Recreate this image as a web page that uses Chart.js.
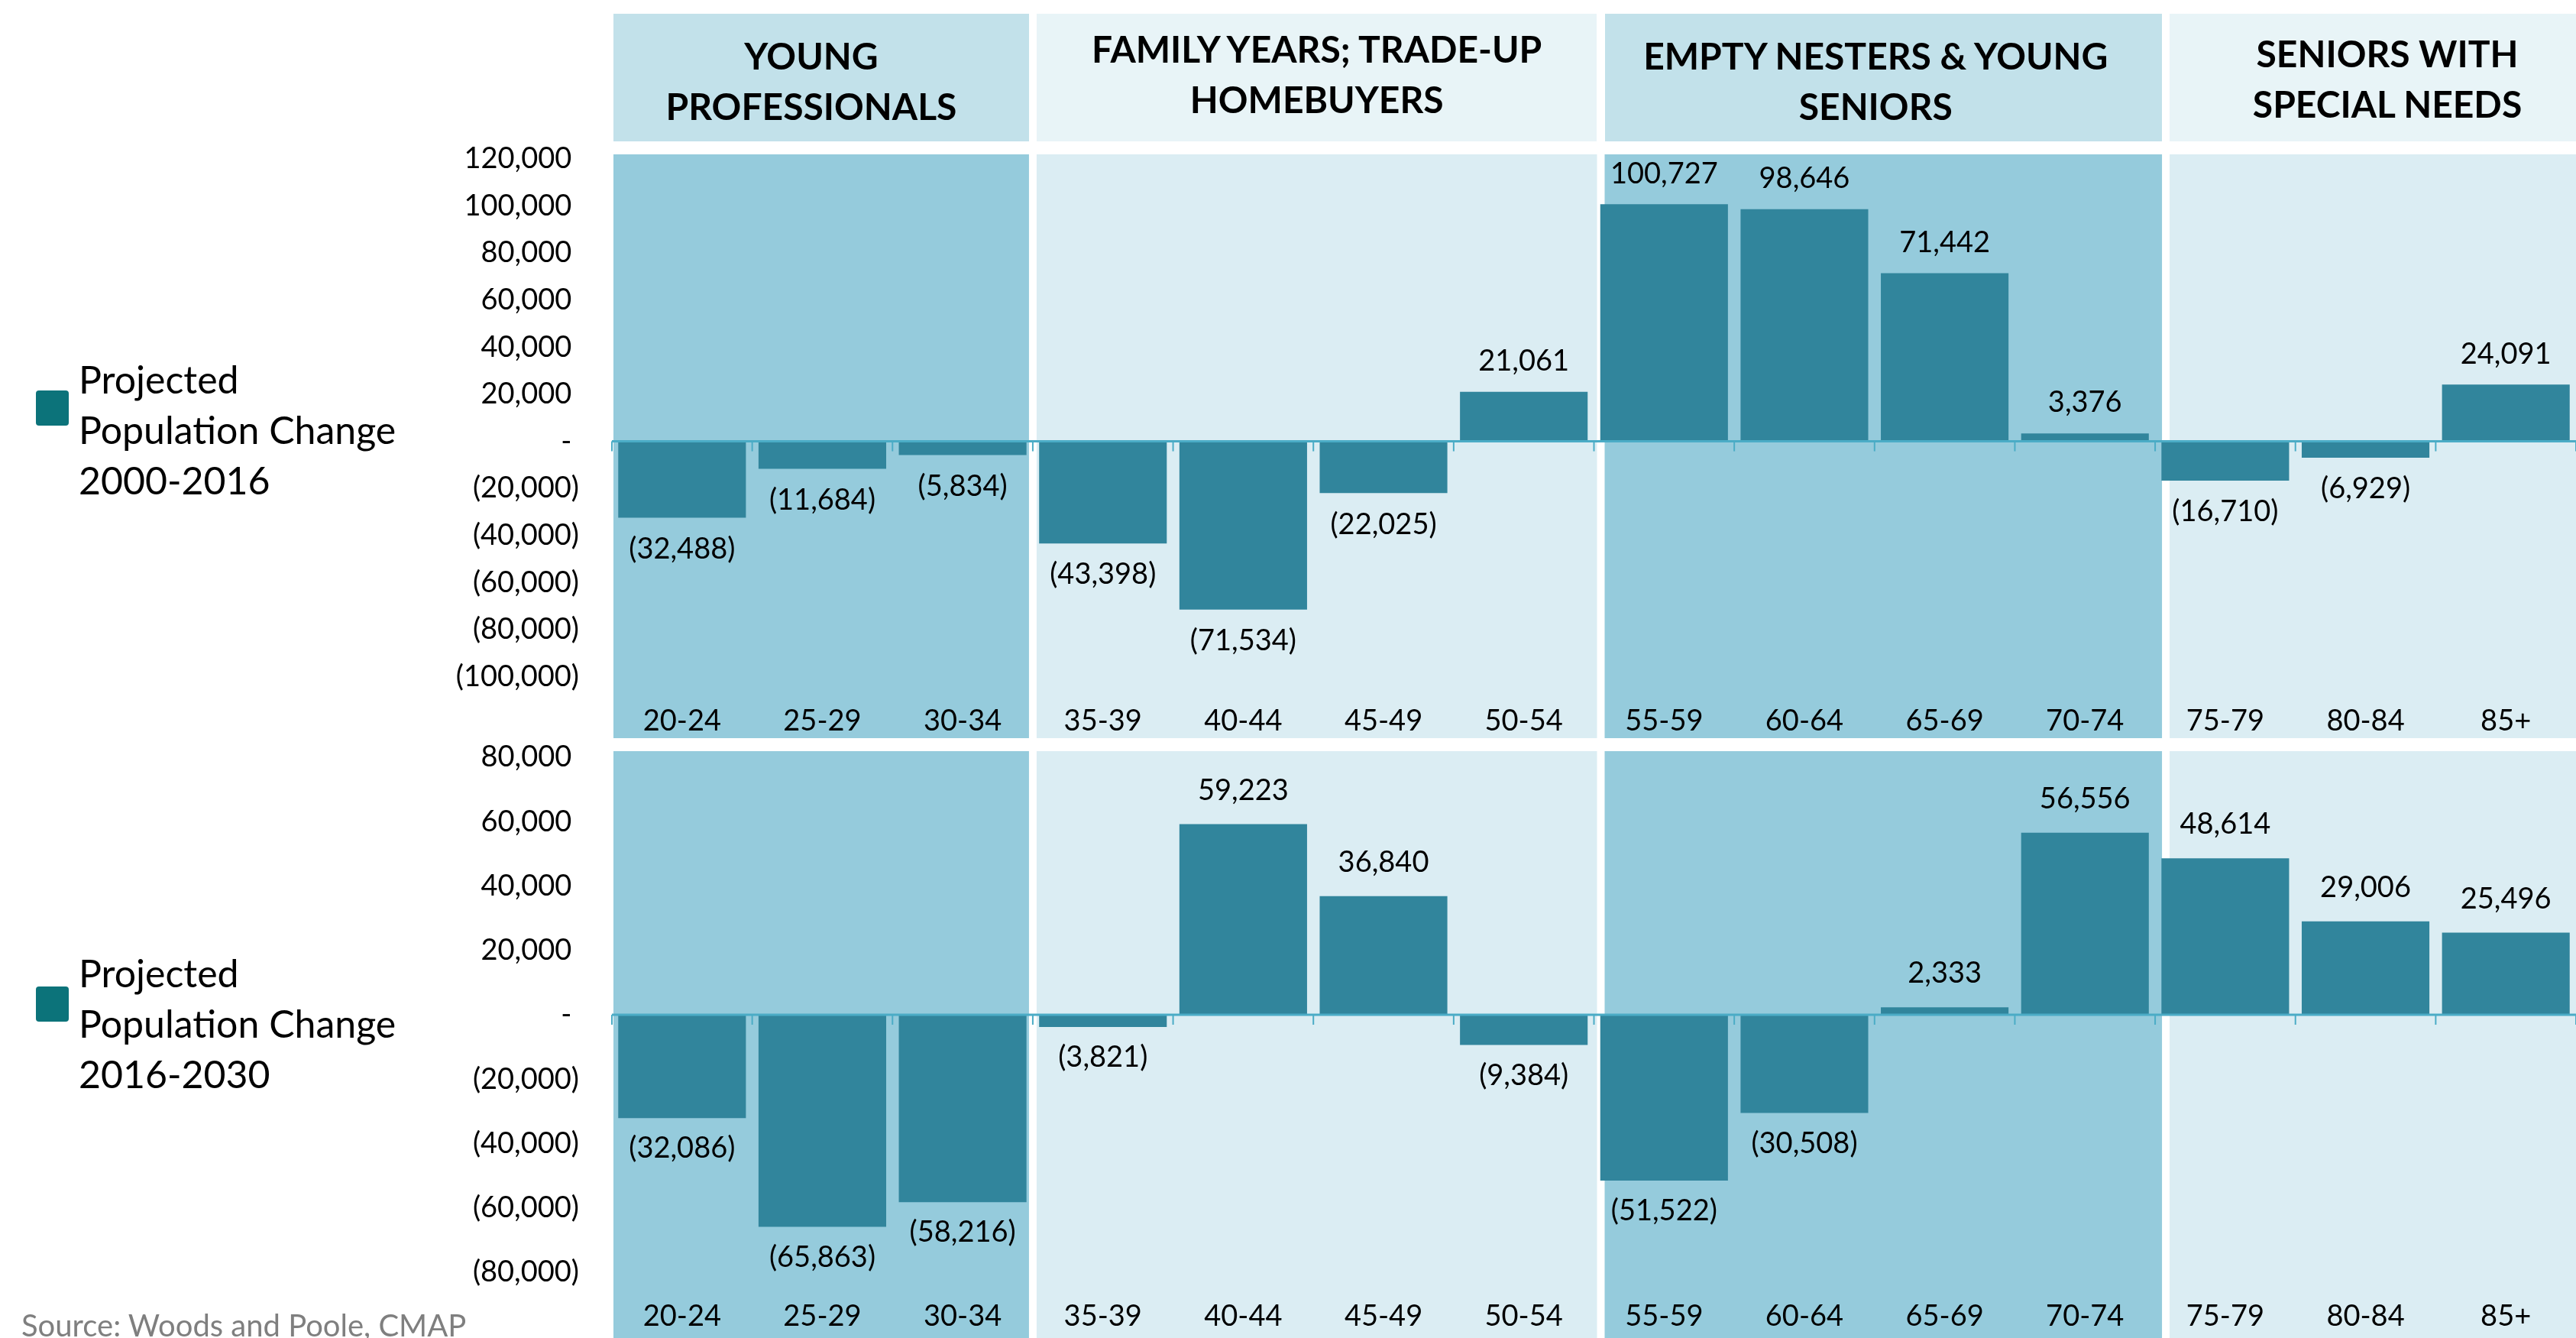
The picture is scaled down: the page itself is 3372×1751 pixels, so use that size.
<!DOCTYPE html>
<html lang="en">
<head>
  <meta charset="UTF-8">
  <title>Projected Population Change by Age Group</title>
  <script src="https://cdn.jsdelivr.net/npm/chart.js"></script>
  <style>
    body { margin: 0; background: #fff; font-family: Lato, sans-serif; color: #000; }
    #page { position: relative; width: 3372px; height: 1751px; overflow: hidden; }
    canvas { position: absolute; left: 0; }
    .hdr { position: absolute; top: 18px; height: 167px; display: flex; align-items: center; justify-content: center;
           text-align: center; font-weight: bold; font-size: 48px; line-height: 66px; white-space: pre; }
    .key { position: absolute; left: 47px; width: 43px; height: 46px; background: #0c737a; border-radius: 4px; }
    .keytext { position: absolute; left: 103px; font-size: 50px; line-height: 66px; }
    #source { position: absolute; left: 28px; top: 1710px; font-size: 40px; line-height: 48px; color: #7f7f7f; white-space: nowrap; }
  </style>
</head>
<body>
<div id="page">
  <canvas id="chartTop" width="3372" height="804" style="top:162px"></canvas>
  <canvas id="chartBottom" width="3372" height="808" style="top:943px"></canvas>

  <div class="key" style="top:511px"></div>
  <div class="keytext" style="top:463px">Projected<br>Population Change<br>2000-2016</div>
  <div class="key" style="top:1291px"></div>
  <div class="keytext" style="top:1240px">Projected<br>Population Change<br>2016-2030</div>

  <div id="source">Source: Woods and Poole, CMAP</div>
</div>

<script>
  // age groups and projected change
  const ageGroups = ['20-24', '25-29', '30-34', '35-39', '40-44', '45-49', '50-54',
                     '55-59', '60-64', '65-69', '70-74', '75-79', '80-84', '85+'];
  const change2000_2016 = [-32488, -11684, -5834, -43398, -71534, -22025, 21061,
                           100727, 98646, 71442, 3376, -16710, -6929, 24091];
  const change2016_2030 = [-32086, -65863, -58216, -3821, 59223, 36840, -9384,
                           -51522, -30508, 2333, 56556, 48614, 29006, 25496];

  // life stages across the top (number of age groups in each)
  const stageNames = ['YOUNG\nPROFESSIONALS', 'FAMILY YEARS; TRADE-UP\nHOMEBUYERS',
                      'EMPTY NESTERS & YOUNG\nSENIORS', 'SENIORS WITH\nSPECIAL NEEDS'];
  const stageSizes = [3, 4, 4, 3];

  // y axis ranges
  const yTop = { min: -100000, max: 120000, step: 20000 };
  const yBottom = { min: -80000, max: 80000, step: 20000 };

  const BAR = '#31859c';
  const BAND = ['#95cbdc', '#dbedf3'];
  const HEAD = ['#c2e1ea', '#e8f4f7'];
  const AXIS = '#4bacc6';
  // the shaded bands sit slightly right of the category edges further along
  const edgeShift = [0, 0, 9, 14, 0];

  Chart.defaults.font.family = 'Lato';
  Chart.defaults.color = '#000';

  function fmt(v) {
    const s = Math.abs(v).toLocaleString('en-US');
    return v < 0 ? '(' + s + ')' : s;
  }

  function stageSpan(chart, g) {
    const x = chart.scales.x, a = chart.chartArea;
    const half = (x.getPixelForValue(1) - x.getPixelForValue(0)) / 2;
    let start = 0;
    for (let k = 0; k < g; k++) start += stageSizes[k];
    const end = start + stageSizes[g] - 1;
    let l = x.getPixelForValue(start) - half + 5 + edgeShift[g];
    let r = x.getPixelForValue(end) + half - 5 + edgeShift[g + 1];
    if (g === 0) l = a.left + 2;
    if (g === stageSizes.length - 1) r = chart.width;
    return [l, r];
  }

  const bandsPlugin = {
    id: 'bands',
    beforeDraw(chart, args, opts) {
      const ctx = chart.ctx;
      const top = chart.chartArea.top - opts.above;
      ctx.save();
      for (let g = 0; g < stageSizes.length; g++) {
        const [l, r] = stageSpan(chart, g);
        ctx.fillStyle = BAND[g % 2];
        ctx.fillRect(l, top, r - l, chart.height - top);
      }
      ctx.restore();
    }
  };

  const zeroAxisPlugin = {
    id: 'zeroAxis',
    afterDatasetsDraw(chart) {
      const ctx = chart.ctx, a = chart.chartArea, x = chart.scales.x;
      const y0 = chart.scales.y.getPixelForValue(0);
      const half = (x.getPixelForValue(1) - x.getPixelForValue(0)) / 2;
      ctx.save();
      ctx.strokeStyle = AXIS;
      ctx.lineWidth = 3;
      ctx.beginPath();
      ctx.moveTo(a.left, y0);
      ctx.lineTo(a.right, y0);
      ctx.stroke();
      ctx.lineWidth = 2;
      for (let i = 0; i <= ageGroups.length; i++) {
        const px = x.getPixelForValue(i) - half;
        ctx.beginPath();
        ctx.moveTo(px, y0);
        ctx.lineTo(px, y0 + 13);
        ctx.stroke();
      }
      ctx.restore();
    }
  };

  const valueLabels = {
    id: 'valueLabels',
    afterDatasetsDraw(chart, args, opts) {
      const ctx = chart.ctx;
      const data = chart.data.datasets[0].data;
      ctx.save();
      ctx.font = '38px Lato';
      ctx.fillStyle = '#000';
      ctx.textAlign = 'center';
      ctx.textBaseline = 'middle';
      chart.getDatasetMeta(0).data.forEach((bar, i) => {
        const v = data[i];
        const y = v >= 0 ? bar.y - opts.above : bar.y + opts.below;
        ctx.fillText(fmt(v), bar.x, y);
      });
      ctx.restore();
    }
  };

  function makeChart(id, values, range, padTop, bandAbove, axisHeight, above, below) {
    return new Chart(document.getElementById(id), {
      type: 'bar',
      data: {
        labels: ageGroups,
        datasets: [{
          data: values,
          backgroundColor: BAR,
          categoryPercentage: 1,
          barPercentage: 0.91
        }]
      },
      options: {
        responsive: false,
        animation: false,
        devicePixelRatio: 1,
        layout: { padding: { top: padTop, left: 0, right: 0, bottom: 0 } },
        plugins: {
          legend: { display: false },
          tooltip: { enabled: false },
          bands: { above: bandAbove },
          valueLabels: { above: above, below: below }
        },
        scales: {
          x: {
            grid: { display: false },
            border: { display: false },
            ticks: { font: { size: 38 }, padding: 27, maxRotation: 0, autoSkip: false },
            afterFit(s) { s.height = axisHeight; s.paddingLeft = 0; s.paddingRight = 0; }
          },
          y: {
            min: range.min,
            max: range.max,
            grid: { display: false },
            border: { display: false },
            ticks: {
              stepSize: range.step,
              font: { size: 38 },
              padding: 35,
              callback: v => v > 0 ? fmt(v) + ' ' : v === 0 ? '- ' : fmt(v)
            },
            afterFit(s) { s.width = 801; s.paddingTop = 0; s.paddingBottom = 0; }
          }
        }
      },
      plugins: [bandsPlugin, zeroAxisPlugin, valueLabels]
    });
  }

  const chartTop = makeChart('chartTop', change2000_2016, yTop, 46, 6, 80.5, 40, 41);
  const chartBottom = makeChart('chartBottom', change2016_2030, yBottom, 48, 8, 86, 44, 40);

  // stage headers, placed over the same category scale as the bars
  const hdrNudge = [[-13, 4], [0, -5], [-10, 4], [19, 1]];
  const page = document.getElementById('page');
  stageNames.forEach((name, g) => {
    const [l, r] = stageSpan(chartTop, g);
    const band = document.createElement('div');
    band.style.cssText = 'position:absolute;top:18px;height:167px;background:' + HEAD[g % 2] +
      ';left:' + l + 'px;width:' + (r - l) + 'px';
    page.appendChild(band);
    const txt = document.createElement('div');
    txt.className = 'hdr';
    txt.textContent = name;
    txt.style.left = (l + hdrNudge[g][0] - 100) + 'px';
    txt.style.width = (r - l + 200) + 'px';
    txt.style.top = (18 + hdrNudge[g][1]) + 'px';
    page.appendChild(txt);
  });
</script>
</body>
</html>
